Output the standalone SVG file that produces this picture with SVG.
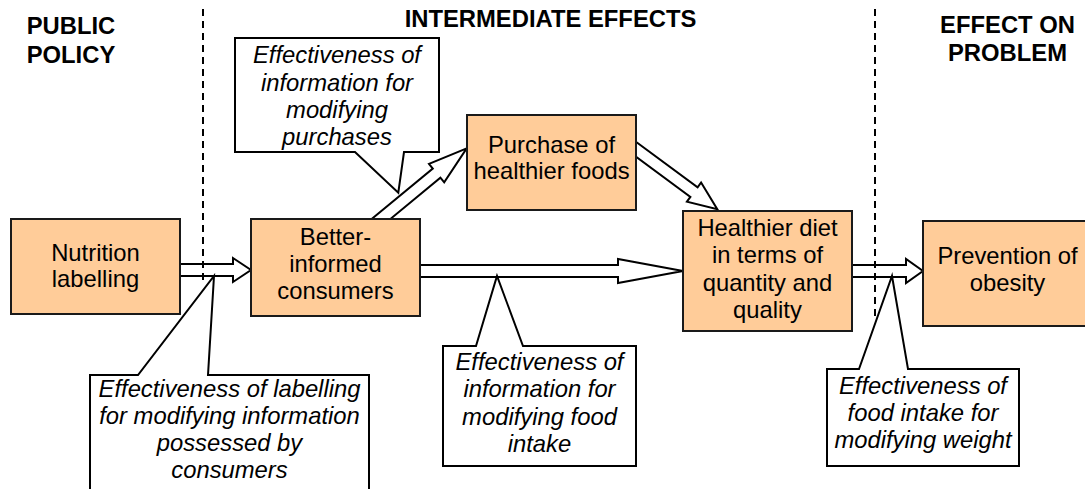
<svg xmlns="http://www.w3.org/2000/svg" width="1085" height="489" viewBox="0 0 1085 489">
<style>
text{font-family:"Liberation Sans",Arial,sans-serif;font-size:23.8px;fill:#000;text-anchor:middle}
.hdr{font-weight:bold}
.it{font-style:italic}
.node{fill:#FFCC99;stroke:#1a1a1a;stroke-width:2}
.arrow{fill:#fff;stroke:#000;stroke-width:2;stroke-linejoin:miter}
.call{fill:#fff;stroke:#000;stroke-width:2;stroke-linejoin:miter}
.div{stroke:#000;stroke-width:2;stroke-dasharray:7 5;fill:none}
</style>
<rect width="1085" height="489" fill="#fff"/>
<g id="headers">
<text class="hdr" x="71" y="34">PUBLIC</text>
<text class="hdr" x="71" y="63">POLICY</text>
<text class="hdr" x="550.5" y="27">INTERMEDIATE EFFECTS</text>
<text class="hdr" x="1007.5" y="33">EFFECT ON</text>
<text class="hdr" x="1007.5" y="61">PROBLEM</text>
</g>
<g id="connectors">
<polygon class="arrow" points="175,264 233,264 233,258 251,270 233,282 233,276 175,276"/>
<polygon class="arrow" points="415,265 618,265 618,259 683,271 618,283 618,277 415,277"/>
<polygon class="arrow" points="847,265 906,265 906,259 923,271 906,283 906,277 847,277"/>
<polygon class="arrow" points="366.5,223.2 432.8,168.5 429,163.8 466.7,148.3 444.2,182.4 440.4,177.7 374.1,232.4"/>
<polygon class="arrow" points="632.5,139.2 697.6,187.3 701.1,182.5 717.3,209.3 686.9,201.7 690.4,196.9 625.3,148.8"/>
</g>
<g id="node-nutrition">
<rect class="node" x="11" y="219" width="169" height="95"/>
<text x="95.5" y="261">Nutrition</text>
<text x="95.5" y="287">labelling</text>
</g>
<g id="node-better">
<rect class="node" x="251" y="219" width="169" height="97"/>
<text x="335.5" y="245">Better-</text>
<text x="335.5" y="272">informed</text>
<text x="335.5" y="299">consumers</text>
</g>
<g id="node-purchase">
<rect class="node" x="467" y="115" width="169" height="95"/>
<text x="551.5" y="153">Purchase of</text>
<text x="551.5" y="179">healthier foods</text>
</g>
<g id="node-diet">
<rect class="node" x="683" y="211" width="169" height="120"/>
<text x="767.5" y="236">Healthier diet</text>
<text x="767.5" y="263">in terms of</text>
<text x="767.5" y="291">quantity and</text>
<text x="767.5" y="318">quality</text>
</g>
<g id="node-obesity">
<rect class="node" x="923" y="221" width="170" height="105"/>
<text x="1007.5" y="264">Prevention of</text>
<text x="1007.5" y="291">obesity</text>
</g>
<g id="callout-purchases">
<path class="call" d="M235,38 H439 V152 H404 L398.3,192.7 L355,152 H235 Z"/>
<text class="it" x="337" y="63">Effectiveness of</text>
<text class="it" x="337" y="91">information for</text>
<text class="it" x="337" y="118">modifying</text>
<text class="it" x="337" y="145">purchases</text>
</g>
<g id="callout-labelling">
<path class="call" d="M90,375 H138 L214,276 L208,375 H369 V495 H90 Z"/>
<text class="it" x="229.5" y="397">Effectiveness of labelling</text>
<text class="it" x="229.5" y="424">for modifying information</text>
<text class="it" x="229.5" y="451">possessed by</text>
<text class="it" x="229.5" y="478">consumers</text>
</g>
<g id="callout-intake">
<path class="call" d="M443,346 H476 L497,276 L523,346 H636 V466 H443 Z"/>
<text class="it" x="539.5" y="370">Effectiveness of</text>
<text class="it" x="539.5" y="397">information for</text>
<text class="it" x="539.5" y="424.5">modifying food</text>
<text class="it" x="539.5" y="452">intake</text>
</g>
<g id="callout-weight">
<path class="call" d="M827,369 H859 L892,276 L908,369 H1019 V466 H827 Z"/>
<text class="it" x="923" y="394">Effectiveness of</text>
<text class="it" x="923" y="421">food intake for</text>
<text class="it" x="923" y="448">modifying weight</text>
</g>
<g id="dividers">
<line class="div" x1="203" y1="9" x2="203" y2="282"/>
<line class="div" x1="875" y1="9" x2="875" y2="320"/>
</g>
</svg>
